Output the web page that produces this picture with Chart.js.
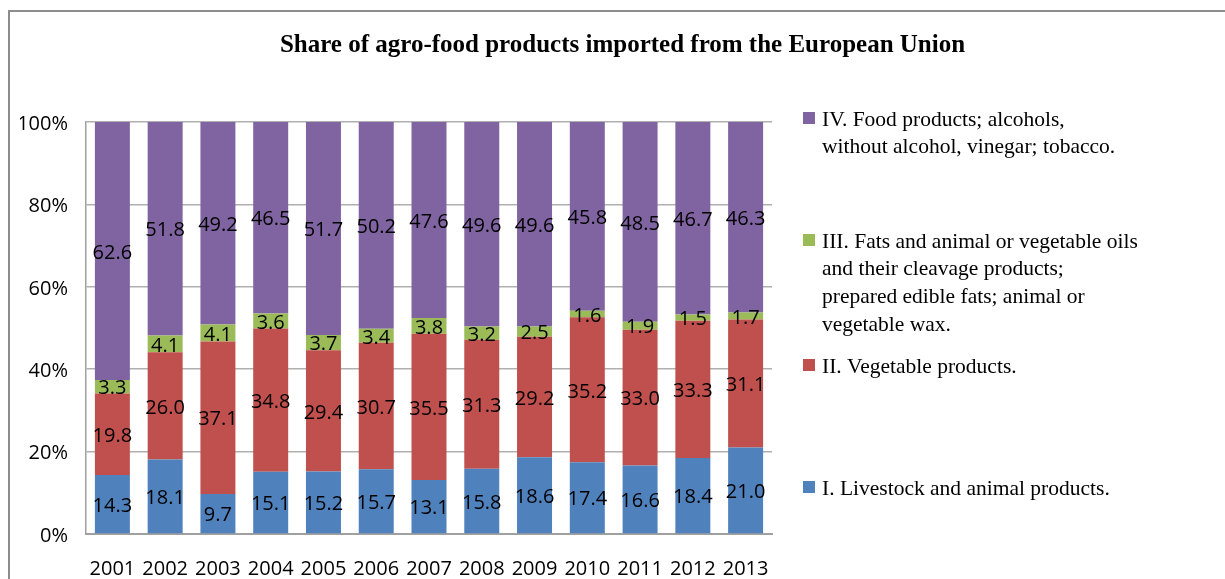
<!DOCTYPE html>
<html>
<head>
<meta charset="utf-8">
<script src="https://cdn.jsdelivr.net/npm/chart.js@4.4.1/dist/chart.umd.min.js"></script>
<style>
  html, body { margin: 0; padding: 0; background: #fff; overflow: hidden; }
  #wrap { position: relative; width: 1225px; height: 579px; }
  #frame { position: absolute; left: 8px; top: 10px; width: 1300px; height: 700px; border: 2px solid #8c8c8c; box-sizing: border-box; pointer-events: none; }
  canvas { position: absolute; left: 0; top: 0; }
</style>
</head>
<body>
<div id="wrap">
  <canvas id="c" width="1225" height="579"></canvas>
  <div id="frame"></div>
</div>
<script>
const categories = ['2001','2002','2003','2004','2005','2006','2007','2008','2009','2010','2011','2012','2013'];
const livestock = [14.3, 18.1, 9.7, 15.1, 15.2, 15.7, 13.1, 15.8, 18.6, 17.4, 16.6, 18.4, 21.0];
const vegetable = [19.8, 26.0, 37.1, 34.8, 29.4, 30.7, 35.5, 31.3, 29.2, 35.2, 33.0, 33.3, 31.1];
const fats      = [3.3, 4.1, 4.1, 3.6, 3.7, 3.4, 3.8, 3.2, 2.5, 1.6, 1.9, 1.5, 1.7];
const food      = [62.6, 51.8, 49.2, 46.5, 51.7, 50.2, 47.6, 49.6, 49.6, 45.8, 48.5, 46.7, 46.3];
const yTicks = [0, 20, 40, 60, 80, 100];
const seriesNames = [
  'I. Livestock and animal products.',
  'II. Vegetable products.',
  'III. Fats and animal or vegetable oils and their cleavage products; prepared edible fats; animal or vegetable wax.',
  'IV. Food products; alcohols, without alcohol, vinegar; tobacco.'
];
const legendLines = [
  ['IV. Food products; alcohols,', 'without alcohol, vinegar; tobacco.'],
  ['III. Fats and animal or vegetable oils', 'and their cleavage products;', 'prepared edible fats; animal or', 'vegetable wax.'],
  ['II. Vegetable products.'],
  ['I. Livestock and animal products.']
];
const titleText = 'Share of agro-food products imported from the European Union';

const colors = ['#4F81BD', '#C0504D', '#9BBB59', '#8064A2'];
const raw = [livestock, vegetable, fats, food];
const totals = categories.map((_, i) => raw.reduce((s, arr) => s + arr[i], 0));
const pct = raw.map(arr => arr.map((v, i) => v / totals[i] * 100));

const dataLabels = {
  id: 'dataLabels',
  afterDatasetsDraw(chart) {
    const ctx = chart.ctx;
    ctx.save();
    ctx.font = '20px "Open Sans"';
    ctx.fillStyle = '#000';
    ctx.textAlign = 'center';
    ctx.textBaseline = 'middle';
    chart.data.datasets.forEach((ds, di) => {
      const meta = chart.getDatasetMeta(di);
      meta.data.forEach((el, i) => {
        const y = (el.y + el.base) / 2 + 2;
        ctx.fillText(raw[di][i].toFixed(1), el.x, y);
      });
    });
    ctx.restore();
  }
};

const sideLegend = {
  id: 'sideLegend',
  afterDraw(chart) {
    const ctx = chart.ctx;
    const area = chart.chartArea;
    const x0 = area.right + 31;
    const starts = [118, 240, 365, 487];
    const lineH = 27.7;
    const legendColors = [colors[3], colors[2], colors[1], colors[0]];
    ctx.save();
    ctx.font = '21.5px "Liberation Serif"';
    ctx.textAlign = 'left';
    ctx.textBaseline = 'middle';
    legendLines.forEach((lines, k) => {
      const y = starts[k];
      ctx.fillStyle = legendColors[k];
      ctx.fillRect(x0, y - 6, 12, 12);
      ctx.fillStyle = '#000';
      lines.forEach((t, j) => ctx.fillText(t, x0 + 19, y + 2 + j * lineH));
    });
    ctx.restore();
  }
};

new Chart(document.getElementById('c'), {
  type: 'bar',
  data: {
    labels: categories,
    datasets: pct.map((d, i) => ({
      label: seriesNames[i],
      data: d,
      backgroundColor: colors[i],
      borderWidth: 0,
      categoryPercentage: 1,
      barPercentage: 0.663
    }))
  },
  options: {
    responsive: false,
    devicePixelRatio: 1,
    animation: false,
    layout: { padding: { left: 20, right: 0, top: 0, bottom: 0 } },
    plugins: {
      legend: { display: false },
      tooltip: { enabled: false },
      title: {
        display: true,
        text: titleText,
        color: '#000',
        font: { family: 'Liberation Serif', size: 25, weight: 'bold' },
        padding: { top: 31, bottom: 61 }
      }
    },
    scales: {
      x: {
        stacked: true,
        grid: { display: false },
        border: { color: '#a0a0a0', width: 2 },
        ticks: { color: '#000', font: { family: 'Open Sans', size: 20 }, padding: 15, maxRotation: 0 },
        afterFit(s) { s.height = 45; }
      },
      y: {
        stacked: true,
        min: 0,
        max: 100,
        afterBuildTicks(s) { s.ticks = yTicks.map(v => ({ value: v })); },
        ticks: { color: '#000', font: { family: 'Open Sans', size: 20 }, padding: 18, labelOffset: 2, callback: v => v + '%' },
        grid: { color: '#b0b0b0', lineWidth: 1.5, drawTicks: false },
        border: { color: '#a0a0a0', width: 1.5 },
        afterFit(s) { s.width = 66; }
      },
      yR: {
        position: 'right',
        display: true,
        grid: { display: false },
        border: { display: false },
        ticks: { display: false },
        afterFit(s) { s.width = 453; }
      }
    }
  },
  plugins: [dataLabels, sideLegend]
});
</script>
</body>
</html>
